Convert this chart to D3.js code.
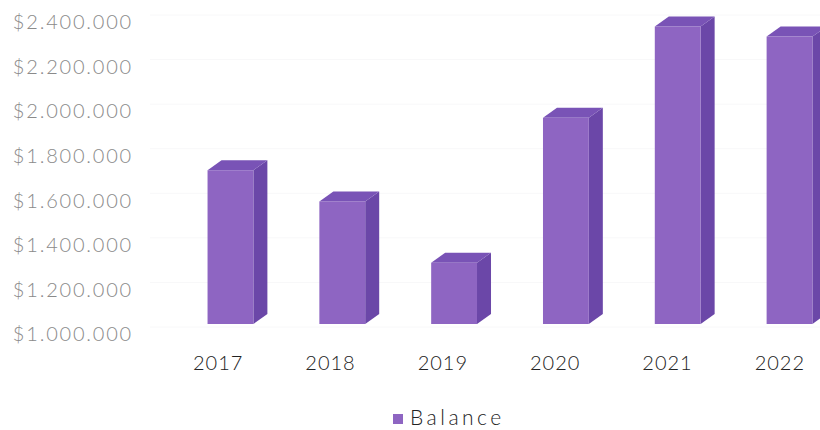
<!DOCTYPE html>
<html>
<head>
<meta charset="utf-8">
<script src="https://cdn.jsdelivr.net/npm/d3@7"></script>
<style>
  html, body { margin: 0; padding: 0; background: #ffffff; }
  svg { display: block; }
</style>
</head>
<body>
<svg id="chart" width="820" height="430"></svg>
<script>
// Yearly balance, drawn as 3D-style columns
const years = ["2017", "2018", "2019", "2020", "2021", "2022"];
const balance = [1690000, 1550000, 1275000, 1925000, 2335000, 2290000];
const yTicks = [1000000, 1200000, 1400000, 1600000, 1800000, 2000000, 2200000, 2400000];
const seriesName = "Balance";

const W = 820, H = 430;
const svg = d3.select("#chart");

const FONT = "Lato, 'Open Sans', sans-serif";
const depthX = 14, depthY = -10;     // extrusion of each column
const floorShift = -10;              // front face sits a little above the tick line

// value scale shared by the tick labels and the columns
const y = d3.scaleLinear().domain([1000000, 2400000]).range([334, 22]);

// category band for the column front faces
const x = d3.scaleBand().domain(years).range([174, 846]).paddingInner(0.59).paddingOuter(0.3);

// dollar format with dots as thousands separators
const fmt = v => "$" + d3.format(",")(v).replace(/,/g, ".");

// faint back-wall gridlines
svg.append("g")
  .selectAll("line")
  .data(yTicks)
  .join("line")
  .attr("x1", 150).attr("x2", W)
  .attr("y1", d => y(d) + floorShift + 3)
  .attr("y2", d => y(d) + floorShift + 3)
  .attr("stroke", "#f8f8f9")
  .attr("stroke-width", 1);

// value axis labels
const yAxis = d3.axisLeft(y).tickValues(yTicks).tickFormat(fmt).tickSize(0).tickPadding(0);
const gy = svg.append("g").attr("transform", "translate(133,0)").call(yAxis);
gy.select(".domain").remove();
gy.selectAll("text")
  .attr("font-family", FONT)
  .attr("font-weight", 300)
  .attr("font-size", 20)
  .attr("letter-spacing", "1.8px")
  .attr("fill", "#8a8a8a")
  .attr("dy", "0.34em");

// columns
const cols = svg.append("g").selectAll("g")
  .data(years.map((yr, i) => ({ yr, v: balance[i] })))
  .join("g");

cols.each(function (d) {
  const g = d3.select(this);
  const x0 = x(d.yr), w = x.bandwidth();
  const yb = y(1000000) + floorShift;
  const yt = y(d.v) + floorShift;
  // side face
  g.append("path")
    .attr("d", `M${x0 + w},${yt} L${x0 + w + depthX},${yt + depthY} L${x0 + w + depthX},${yb + depthY} L${x0 + w},${yb} Z`)
    .attr("fill", "#6b47a8");
  // top face
  g.append("path")
    .attr("d", `M${x0},${yt} L${x0 + depthX},${yt + depthY} L${x0 + w + depthX},${yt + depthY} L${x0 + w},${yt} Z`)
    .attr("fill", "#7953b6");
  // front face
  g.append("rect")
    .attr("x", x0).attr("y", yt)
    .attr("width", w).attr("height", yb - yt)
    .attr("fill", "#8e65c2");
});

// category labels
const xl = d3.scaleBand().domain(years).range([162, 836]).padding(0);
const xAxis = d3.axisBottom(xl).tickSize(0).tickPadding(0);
const gx = svg.append("g").attr("transform", "translate(0,363)").call(xAxis);
gx.select(".domain").remove();
gx.selectAll("text")
  .attr("font-family", FONT)
  .attr("font-weight", 300)
  .attr("font-size", 20)
  .attr("letter-spacing", "1px")
  .attr("fill", "#222222")
  .attr("dy", "0.35em");

// legend
const lg = svg.append("g").attr("transform", "translate(393,418)");
lg.append("rect").attr("x", 0).attr("y", -4).attr("width", 10).attr("height", 10).attr("fill", "#8e65c2");
lg.append("text").attr("x", 17).attr("y", 0).attr("dy", "0.35em")
  .attr("font-family", FONT).attr("font-weight", 300).attr("font-size", 21)
  .attr("letter-spacing", "3.5px")
  .attr("fill", "#222222").text(seriesName);
</script>
</body>
</html>
